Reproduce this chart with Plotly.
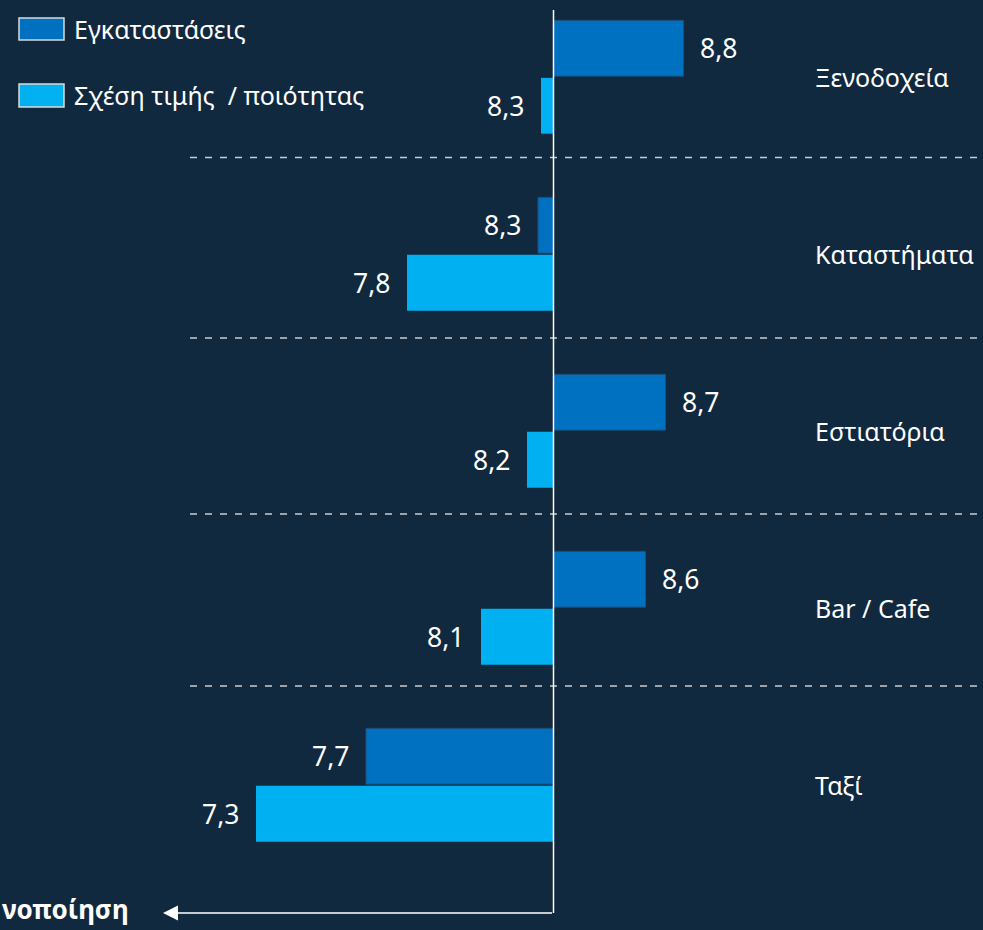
import plotly.graph_objects as go

# ---- data ----
categories = ["Ξενοδοχεία", "Καταστήματα", "Εστιατόρια", "Bar / Cafe", "Ταξί"]
series_names = ["Εγκαταστάσεις", "Σχέση τιμής  / ποιότητας"]
facilities_score = [8.8, 8.3, 8.7, 8.6, 7.7]
value_score = [8.3, 7.8, 8.2, 8.1, 7.3]
# bar length (deviation as drawn in the chart)
facilities_dev = [1.30, -0.155, 1.12, 0.92, -1.875]
value_dev = [-0.125, -1.465, -0.265, -0.725, -2.975]
axis_caption = "νοποίηση"

# ---- style ----
W, H = 983, 930
BG = "#10293F"
C_DARK = "#0070C0"
C_LIGHT = "#00B0F0"
FONT = "Noto Sans"
WHITE = "#FFFFFF"

def py(p):  # pixel (from top) -> paper y
    return 1 - p / H

def px(p):  # pixel (from left) -> paper x
    return p / W

ypos = list(range(len(categories)))

fig = go.Figure()
fig.add_trace(go.Bar(
    y=ypos, x=facilities_dev, orientation="h", name=series_names[0],
    marker=dict(color=C_DARK, line=dict(color="#1C4E78", width=1)),
    showlegend=False, hoverinfo="skip"))
fig.add_trace(go.Bar(
    y=ypos, x=value_dev, orientation="h", name=series_names[1],
    marker=dict(color=C_LIGHT, line=dict(width=0)),
    showlegend=False, hoverinfo="skip"))

annotations = []
# value labels
for dev_list, score_list, ysh in ((facilities_dev, facilities_score, 29),
                                   (value_dev, value_score, -29)):
    for i, (d, s) in enumerate(zip(dev_list, score_list)):
        pos = d >= 0
        annotations.append(dict(
            x=d, y=i, xref="x", yref="y", showarrow=False,
            text=f"{s:.1f}".replace(".", ","),
            xanchor="left" if pos else "right", yanchor="middle",
            xshift=14 if pos else -15, yshift=ysh,
            font=dict(family=FONT, size=26.5, color=WHITE)))
# category labels
for i, c in enumerate(categories):
    annotations.append(dict(
        x=2.615, y=i, xref="x", yref="y", showarrow=False, text=c,
        xanchor="left", yanchor="middle", xshift=-2,
        font=dict(family=FONT, size=25, color=WHITE)))
# manual legend
legend_rows = [(series_names[0], C_DARK, 18, 40), (series_names[1], C_LIGHT, 84, 107)]
shapes = []
for name, col, t, b in legend_rows:
    shapes.append(dict(type="rect", xref="paper", yref="paper",
                       x0=px(19), x1=px(64), y0=py(b), y1=py(t),
                       fillcolor=col, line=dict(color="#D9D9D9", width=1.5)))
    annotations.append(dict(
        x=px(72), y=py((t + b) / 2), xref="paper", yref="paper", showarrow=False,
        text=name, xanchor="left", yanchor="middle",
        font=dict(family=FONT, size=25, color=WHITE)))

# separators
for p in (157.5, 338, 514, 686):
    shapes.append(dict(type="line", xref="paper", yref="paper",
                       x0=px(190), x1=1, y0=py(p), y1=py(p),
                       line=dict(color="#C9CDD2", width=1.6, dash="7px,8px")))
# vertical axis line
shapes.append(dict(type="line", xref="x", yref="paper", x0=0, x1=0,
                   y0=py(913), y1=py(10), line=dict(color=WHITE, width=1.5)))
# arrow
annotations.append(dict(
    x=px(163), y=py(913), xref="paper", yref="paper",
    ax=553.5 - 163, ay=0, axref="pixel", ayref="pixel",
    showarrow=True, arrowhead=2, arrowsize=2, arrowwidth=1.5,
    arrowcolor=WHITE, text=""))
annotations.append(dict(
    x=0, y=py(929), xref="paper", yref="paper", showarrow=False,
    text=f"<b>{axis_caption}</b>", xanchor="left", yanchor="bottom",
    font=dict(family=FONT, size=26, color=WHITE)))

fig.update_layout(
    width=W, height=H, margin=dict(l=0, r=0, t=0, b=0),
    paper_bgcolor=BG, plot_bgcolor=BG,
    barmode="group", bargap=0.35, bargroupgap=0.03,
    xaxis=dict(range=[-5.535, 4.295], visible=False, fixedrange=True),
    yaxis=dict(range=[4.8192, -0.4350], visible=False, fixedrange=True),
    annotations=annotations, shapes=shapes,
)

fig.write_html("out.html",
               config={"displayModeBar": False},
               post_script="document.body.style.margin='0';document.body.style.overflow='hidden';")
